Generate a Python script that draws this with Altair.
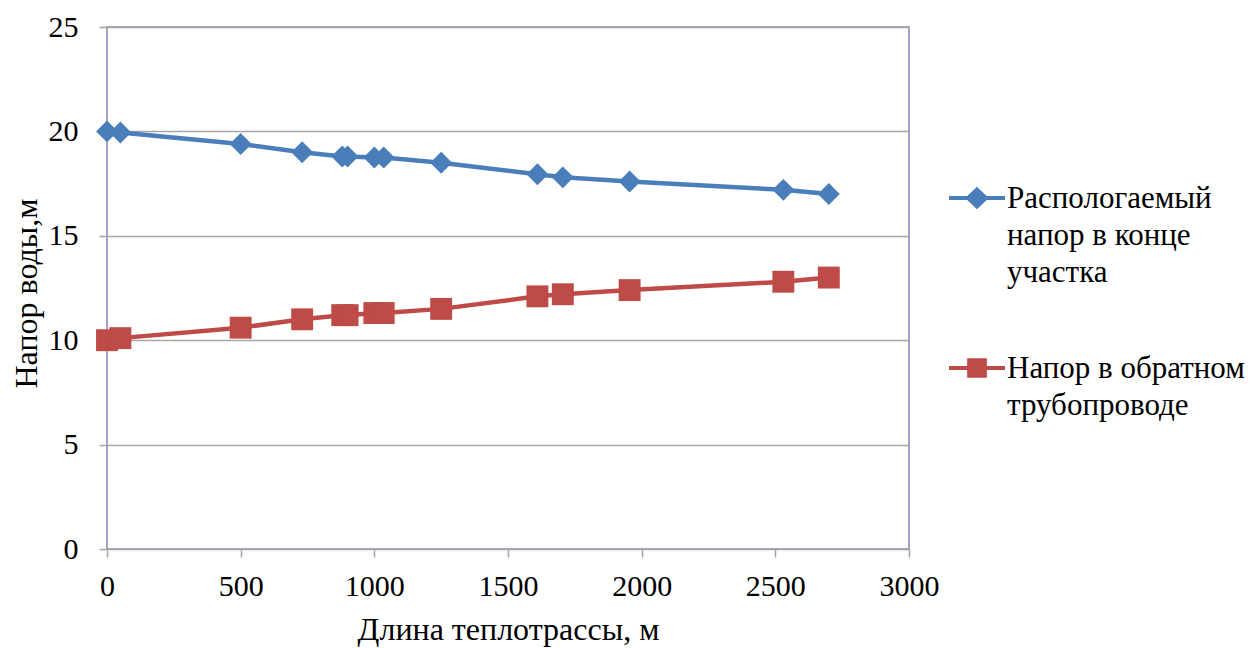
import altair as alt
import pandas as pd

# ---- data ----
length_m = [0, 50, 500, 730, 880, 900, 1000, 1035, 1250, 1610, 1705, 1955, 2530, 2700]
head_available = [20.0, 19.95, 19.4, 19.0, 18.8, 18.8, 18.75, 18.75, 18.5, 17.95, 17.8, 17.6, 17.2, 17.0]
head_return = [10.0, 10.1, 10.6, 11.0, 11.2, 11.2, 11.3, 11.3, 11.5, 12.1, 12.2, 12.4, 12.8, 13.0]

series_names = ["Распологаемый|напор в конце|участка", "Напор в обратном|трубопроводе"]
series_colors = ["#4A7EBB", "#BE4B48"]
series_shapes = ["diamond", "square"]
# legend glyphs: a short line with the series marker on it
legend_symbols = [
    "M-1,0.5H1M0,0.2L0.32,0.5L0,0.8L-0.32,0.5Z",
    "M-1,0.5H1M-0.28,0.22H0.28V0.78H-0.28Z",
]

x_ticks = [0, 500, 1000, 1500, 2000, 2500, 3000]
y_ticks = [0, 5, 10, 15, 20, 25]

x_title = "Длина теплотрассы, м"
y_title = "Напор воды,м"

rows = []
for x, a, b in zip(length_m, head_available, head_return):
    rows.append({"length": x, "head": a, "series": series_names[0]})
    rows.append({"length": x, "head": b, "series": series_names[1]})
df = pd.DataFrame(rows)

FONT = "Liberation Serif, Times New Roman, serif"
FS_TICK = 30
FS_TITLE = 32
FS_LEG = 31
GRAY = "#A6A6A6"
FRAME = "#8585AD"

x_enc = alt.X(
    "length:Q",
    scale=alt.Scale(domain=[0, 3000], nice=False),
    axis=alt.Axis(
        values=x_ticks, format="d", title=x_title, grid=False, domain=False,
        tickColor=GRAY, tickSize=8, tickWidth=1.5,
        labelFont=FONT, labelFontSize=FS_TICK, labelColor="black", labelPadding=14,
        titleFont=FONT, titleFontSize=FS_TITLE, titleFontWeight="normal", titleColor="black",
        titleY=65, labelFlush=False,
    ),
)
y_enc = alt.Y(
    "head:Q",
    scale=alt.Scale(domain=[0, 25], nice=False),
    axis=alt.Axis(
        values=y_ticks, format="d", title=y_title, grid=True, gridColor=GRAY, gridWidth=1.5,
        domain=False, tickColor=GRAY, tickSize=8, tickWidth=1.5,
        labelFont=FONT, labelFontSize=FS_TICK, labelColor="black", labelPadding=21,
        titleFont=FONT, titleFontSize=FS_TITLE, titleFontWeight="normal", titleColor="black",
        titleX=-64, titleY=266,
    ),
)

color_scale = alt.Scale(domain=series_names, range=series_colors)


def make_legend(i, y):
    return alt.Legend(
        title=None, orient="none", legendX=840, legendY=y, padding=0,
        values=[series_names[i]],
        labelFont=FONT, labelFontSize=FS_LEG, labelColor="black", labelLimit=500,
        labelExpr="split(datum.label, '|')", labelBaseline="top",
        labelOffset=0, symbolType=legend_symbols[i], symbolSize=3136,
        symbolStrokeWidth=4, symbolStrokeColor=series_colors[i],
        symbolFillColor=series_colors[i], symbolOpacity=1,
    )


legend_y = [127, 297]

line_layers = []
for i, name in enumerate(series_names):
    line_layers.append(
        alt.Chart(df).transform_filter(alt.datum.series == name).mark_line(strokeWidth=4.5).encode(
            x=x_enc, y=y_enc,
            color=alt.Color("series:N", scale=color_scale, legend=make_legend(i, legend_y[i])),
        )
    )

points = alt.Chart(df).mark_point(filled=True, opacity=1, size=480).encode(
    x="length:Q", y="head:Q",
    color=alt.Color("series:N", scale=color_scale, legend=None),
    shape=alt.Shape("series:N", scale=alt.Scale(domain=series_names, range=series_shapes), legend=None),
)

chart = alt.layer(*line_layers, points).resolve_legend(color="independent").properties(
    width=802, height=522,
    padding={"left": 107, "top": 27, "right": 345, "bottom": 99},
    autosize=alt.AutoSizeParams(type="none"),
    background="white",
).configure(
    font=FONT,
    style={"guide-label": {"lineHeight": 37}},
).configure_view(
    stroke=FRAME, strokeWidth=1.5
)

chart.save("out.html", embed_options={"renderer": "svg", "actions": False})
